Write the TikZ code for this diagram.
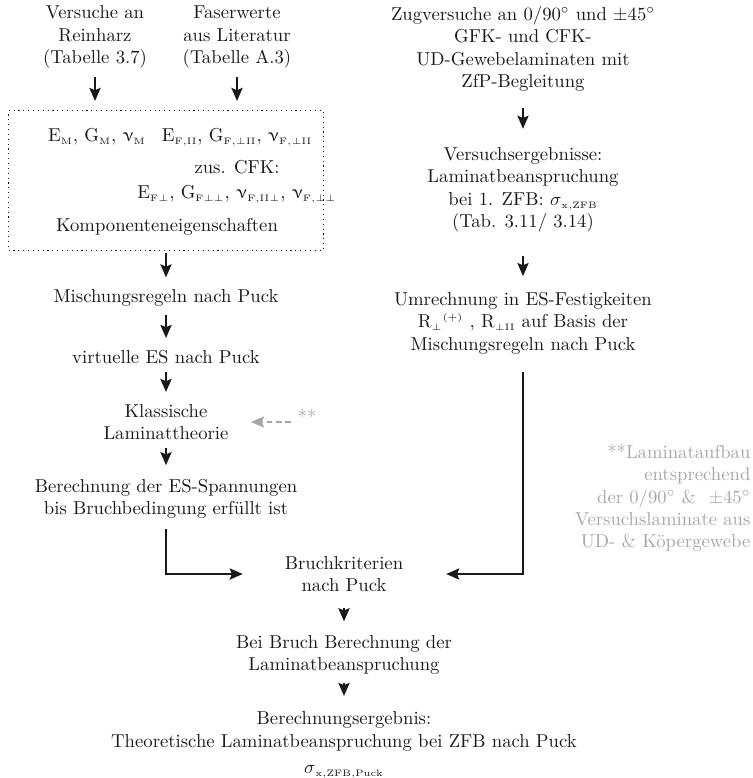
\documentclass[tikz,border=0pt]{standalone}
\usepackage{amsmath,amssymb}
\usepackage{upgreek}
\usepackage{tikz}
\usetikzlibrary{arrows.meta,positioning}

\newcommand{\ix}[1]{\ensuremath{_{\scriptscriptstyle\mathrm{#1}}}}

\begin{document}
\begin{tikzpicture}[x=0.535pt,y=-0.535pt,>={Stealth[length=7pt,width=6pt,inset=1.2pt]},
  every node/.style={text=black!90},
  txt/.style={align=center},
  flow/.style={->,line width=0.9pt,draw=black!90,shorten <=1pt,shorten >=3pt},
  note/.style={text=black!35,align=right},
  notearrow/.style={->,densely dashed,draw=black!35,line width=0.6pt}]
\useasboundingbox (0,0) rectangle (753,778);

% left column
\node (harz) [txt] at (95,37) {Versuche an\\Reinharz\\(Tabelle 3.7)};
\node (faser) [txt] at (237,37) {Faserwerte\\aus Literatur\\(Tabelle A.3)};
\node (komp) [draw=black!90,dotted,line width=0.6pt,minimum width=168.5pt,minimum height=74.5pt,inner sep=0pt] at (166,180.5) {};
\node (em) at (97,137) {E\ix{M}, G\ix{M}, $\upnu$\ix{M}};
\node (ef) at (237,137) {E\ix{F{,}II}, G\ix{F{,}\perp II}, $\upnu$\ix{F{,}\perp II}};
\node (zus) at (237,167) {zus. CFK:};
\node (efq) at (237,194) {E\ix{F\perp}, G\ix{F\perp\perp}, $\upnu$\ix{F{,}II\perp}, $\upnu$\ix{F{,}\perp\perp}};
\node (kompl) at (167,227) {Komponenteneigenschaften};

\node (misch) at (166,298) {Mischungsregeln nach Puck};
\node (virt) at (166,357) {virtuelle ES nach Puck};
\node (klass) [txt] at (166,422) {Klassische\\Laminattheorie};
\node (berech) [txt] at (166,499) {Berechnung der ES-Spannungen\\bis Bruchbedingung erfüllt ist};
\node (stars) [text=black!35] at (307,416) {**};
\coordinate (kl-in) at (251,422);

% right column
\node (zug) [txt] at (523,49) {Zugversuche an 0/90$^\circ$ und $\pm$45$^\circ$\\GFK- und CFK-\\UD-Gewebelaminaten mit\\ZfP-Begleitung};
\node (ergeb) [txt] at (523,190) {Versuchsergebnisse:\\Laminatbeanspruchung\\bei 1. ZFB: $\sigma$\ix{x{,}ZFB}\\(Tab. 3.11/ 3.14)};
\node (umr) [txt] at (523,323) {Umrechnung in ES-Festigkeiten\\R$_{\scriptscriptstyle\perp}{}^{\scriptscriptstyle(+)}$ , R\ix{\perp II} auf Basis der\\Mischungsregeln nach Puck};
\node (hinweis) [note,anchor=east] at (757,498) {**Laminataufbau\\entsprechend\\der 0/90$^\circ$ \& \ $\pm$45$^\circ$\\Versuchslaminate aus\\UD- \& Köpergewebe};

% bottom
\node (bruch) [txt] at (344,574) {Bruchkriterien\\nach Puck};
\node (bei) [txt] at (344,655) {Bei Bruch Berechnung der\\Laminatbeanspruchung};
\node (res) [txt] at (344,745) {Berechnungsergebnis:\\Theoretische Laminatbeanspruchung bei ZFB nach Puck\\[2pt]$\sigma$\ix{x{,}ZFB{,}Puck}};

\draw[flow,shorten >=5pt] (harz) -- (harz |- komp.north);
\draw[flow,shorten >=5pt] (faser) -- (faser |- komp.north);
\draw[flow] (komp) -- (misch);
\draw[flow] (misch) -- (virt);
\draw[flow] (virt) -- (klass);
\draw[flow,shorten >=4pt] (klass) -- (berech);
\draw[notearrow] (stars.west |- kl-in) -- (kl-in);

\draw[flow,shorten <=5.5pt,shorten >=6.5pt] (zug) -- (ergeb);
\draw[flow,shorten <=9pt,shorten >=5pt] (ergeb) -- (umr);
\draw[flow,shorten <=2pt,shorten >=19pt] (berech) |- (bruch);
\draw[flow,shorten <=6pt,shorten >=19.5pt] (umr) |- (bruch);
\draw[flow,shorten <=5pt,shorten >=4pt] (bruch) -- (bei);
\draw[flow,shorten >=5pt] (bei) -- (res);
\end{tikzpicture}
\end{document}
